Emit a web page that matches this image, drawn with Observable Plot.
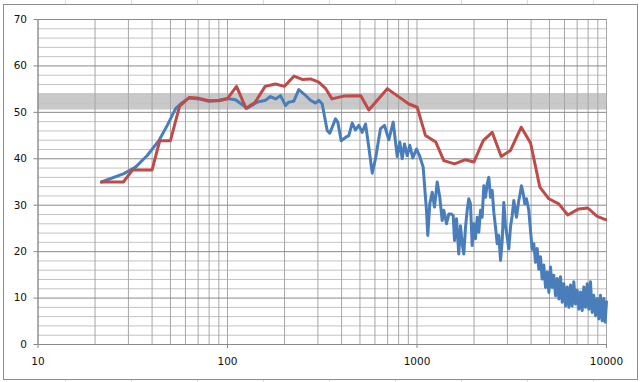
<!DOCTYPE html>
<html>
<head>
<meta charset="utf-8">
<script src="https://cdn.jsdelivr.net/npm/d3@7"></script>
<script src="https://cdn.jsdelivr.net/npm/@observablehq/plot@0.6"></script>
<style>
  html, body { margin: 0; padding: 0; }
  body {
    width: 641px; height: 382px; position: relative; overflow: hidden;
    background-color: #fff;
    background-image:
      repeating-linear-gradient(to right, transparent 0, transparent 65px, #dcdcdc 65px, #dcdcdc 66px, transparent 66px, transparent 64.3px);
  }
  #frame {
    position: absolute; left: 3px; top: 4px; width: 633px; height: 374px;
    border: 1px solid #8c8c8c; background: #fff; box-sizing: content-box;
  }
  #chart { position: absolute; left: 0; top: 0; }
</style>
</head>
<body>
<div id="frame"></div>
<div id="chart"></div>
<script>
// ---- data (frequency in Hz, level in dB) ----
const redFreq = [21.6, 28.2, 31.6, 40.0, 43.9, 50.0, 55.8, 62.8, 69.2, 79.6, 90, 99.7, 111.6, 125, 140, 158, 179, 200, 224, 248, 274, 303, 330, 356, 410, 505, 557, 697, 785, 906, 1002, 1109, 1257, 1385, 1578, 1803, 1995, 2236, 2493, 2783, 3114, 3548, 3975, 4448, 4960, 5600, 6250, 7140, 7966, 8930, 9886];
const redDb   = [35.0, 35.0, 37.6, 37.6, 43.9, 43.9, 51.3, 53.2, 53.1, 52.5, 52.5, 52.9, 55.6, 50.9, 52.2, 55.6, 56.1, 55.6, 57.8, 57.1, 57.2, 56.5, 55.1, 52.9, 53.5, 53.6, 50.5, 55.1, 53.6, 51.8, 51.1, 45.0, 43.6, 39.6, 38.9, 39.8, 39.3, 43.9, 45.7, 40.5, 41.8, 46.8, 43.4, 33.9, 31.4, 30.3, 27.9, 29.2, 29.4, 27.6, 26.9];

const blueFreq = [21.6, 28.4, 32.7, 37.7, 43.4, 48.1, 53.2, 56.5, 62.5, 70.6, 79.7, 90.0, 99.6, 110.2, 127.0, 143.5, 158.7, 168.6, 179.2, 190.4, 202.3, 210.6, 223.9, 237.8, 252.6, 274.2, 291.2, 303.3, 316.0, 335.8, 346.6, 371.5, 382.0, 398.1, 419.5, 436.7, 455.0, 473.7, 493.1, 513.9, 535.0, 556.8, 580.4, 603.9, 641.8, 673.8, 710.0, 748.9, 786.2, 811.4, 835.4, 859.0, 887.8, 916.2, 950.2, 994, 1034.7, 1078, 1095, 1122, 1140, 1168, 1203, 1237, 1278, 1319, 1358, 1385, 1431, 1472, 1515, 1552, 1577, 1616, 1661, 1696, 1731, 1766, 1803, 1840, 1876, 1915, 1955, 1994, 2035, 2078, 2119, 2163, 2208, 2252, 2299, 2347, 2393, 2443, 2494, 2543, 2596, 2650, 2703, 2759, 2816, 2871, 2931, 2992, 3051, 3114, 3180, 3242, 3350, 3445, 3487, 3560, 3634, 3706, 3783, 3890,
  3972, 4052, 4134, 4220, 4308, 4396, 4485, 4575, 4668, 4766, 4865, 4964, 5064, 5167, 5272, 5382, 5494, 5606, 5720, 5836, 5954, 6078, 6205, 6330, 6457, 6588, 6721, 6862, 7005, 7147, 7292, 7440, 7591, 7749, 7911, 8071, 8234, 8400, 8570, 8750, 8933, 9113, 9297, 9486, 9678, 9838, 10000];
const blueDb = [35.0, 36.8, 38.2, 40.7, 43.9, 47.2, 50.8, 51.8, 53.1, 52.9, 52.4, 52.6, 53.0, 52.7, 50.9, 52.2, 52.6, 53.4, 52.9, 53.6, 51.5, 52.2, 52.4, 54.9, 54.0, 52.6, 52.0, 52.6, 51.8, 46.1, 45.5, 48.6, 47.9, 43.9, 44.6, 45.0, 47.7, 46.2, 47.2, 45.7, 47.5, 42.5, 36.9, 40.0, 46.5, 47.2, 44.1, 47.9, 40.5, 43.6, 40.0, 43.2, 40.7, 42.9, 40.2, 42.1, 40.5, 38.2, 34.5, 28.9, 23.5, 30.3, 32.8, 29.6, 35.0, 31.7, 26.7, 28.9, 26.0, 28.1, 28.1, 27.8, 22.4, 27.1, 19.5, 25.6, 21.7, 19.5, 25.3, 28.9, 31.4, 30.3, 21.3, 26.0, 22.8, 27.4, 24.2, 28.9, 27.4, 34.2, 31.7, 34.6, 36.0, 31.7, 33.2, 28.5, 25.3, 21.7, 23.5, 18.1, 22.4, 30.6, 25.6, 23.1, 20.6, 25.3, 27.8, 31.0, 27.4, 31.0, 32.1, 34.2, 32.5, 30.3, 31.4, 28.9,
  24.6, 20.5, 21.7, 17.7, 20.7, 16.2, 18.9, 14.1, 17.1, 12.3, 15.6, 11.2, 16.7, 12.3, 14.9, 10.5, 14.2, 9.8, 14.6, 9.1, 13.1, 8.3, 12.4, 8.0, 12.8, 8.3, 13.5, 8.7, 11.7, 7.6, 11.3, 7.3, 12.4, 8.0, 13.1, 7.6, 13.5, 6.9, 10.6, 6.2, 9.9, 5.5, 10.6, 5.1, 9.9, 4.8, 9.2];

// axis / grid values
const xMajor = [10, 100, 1000, 10000];
const xMinor = [20, 30, 40, 50, 60, 70, 80, 90, 200, 300, 400, 500, 600, 700, 800, 900, 2000, 3000, 4000, 5000, 6000, 7000, 8000, 9000];
const yMajor = [0, 10, 20, 30, 40, 50, 60, 70];
const yMinor = [2, 4, 6, 8, 12, 14, 16, 18, 22, 24, 26, 28, 32, 34, 36, 38, 42, 44, 46, 48, 52, 54, 56, 58, 62, 64, 66, 68];
const bandLow = 50.5, bandHigh = 54;

const red = redFreq.map((f, i) => ({f, v: redDb[i]}));
const blue = blueFreq.map((f, i) => ({f, v: blueDb[i]}));

const chart = Plot.plot({
  width: 641,
  height: 382,
  marginLeft: 37.5,
  marginRight: 35,
  marginTop: 19,
  marginBottom: 38,
  style: {background: "transparent", fontFamily: "DejaVu Sans", fontSize: "10.5px", color: "#111", overflow: "visible"},
  x: {type: "log", domain: [10, 10000]},
  y: {domain: [0, 70]},
  marks: [
    Plot.rect([{x1: 10, x2: 10000, y1: bandLow, y2: bandHigh}], {x1: "x1", x2: "x2", y1: "y1", y2: "y2", fill: "#c9c9c9"}),
    Plot.ruleY(yMinor, {stroke: "#c3c3c3", strokeWidth: 1}),
    Plot.ruleX(xMinor, {stroke: "#a6a6a6", strokeWidth: 1}),
    Plot.ruleX(xMajor, {stroke: "#a6a6a6", strokeWidth: 1}),
    Plot.ruleY(yMajor, {stroke: "#8a8a8a", strokeWidth: 1}),
    Plot.ruleX([10], {stroke: "#868686", strokeWidth: 1}),
    Plot.axisY({ticks: yMajor, tickSize: 4, tickPadding: 7, stroke: "#868686", fontSize: 10.5, label: null}),
    Plot.axisX({ticks: xMajor, tickFormat: d => String(d), tickSize: 4, tickPadding: 9, stroke: "#868686", fontSize: 10.5, label: null}),
    Plot.line(blue, {x: "f", y: "v", stroke: "#4a7ebb", strokeWidth: 3, strokeLinejoin: "round"}),
    Plot.line(red, {x: "f", y: "v", stroke: "#be4b48", strokeWidth: 3, strokeLinejoin: "round"})
  ]
});
document.getElementById("chart").appendChild(chart);
</script>
</body>
</html>
